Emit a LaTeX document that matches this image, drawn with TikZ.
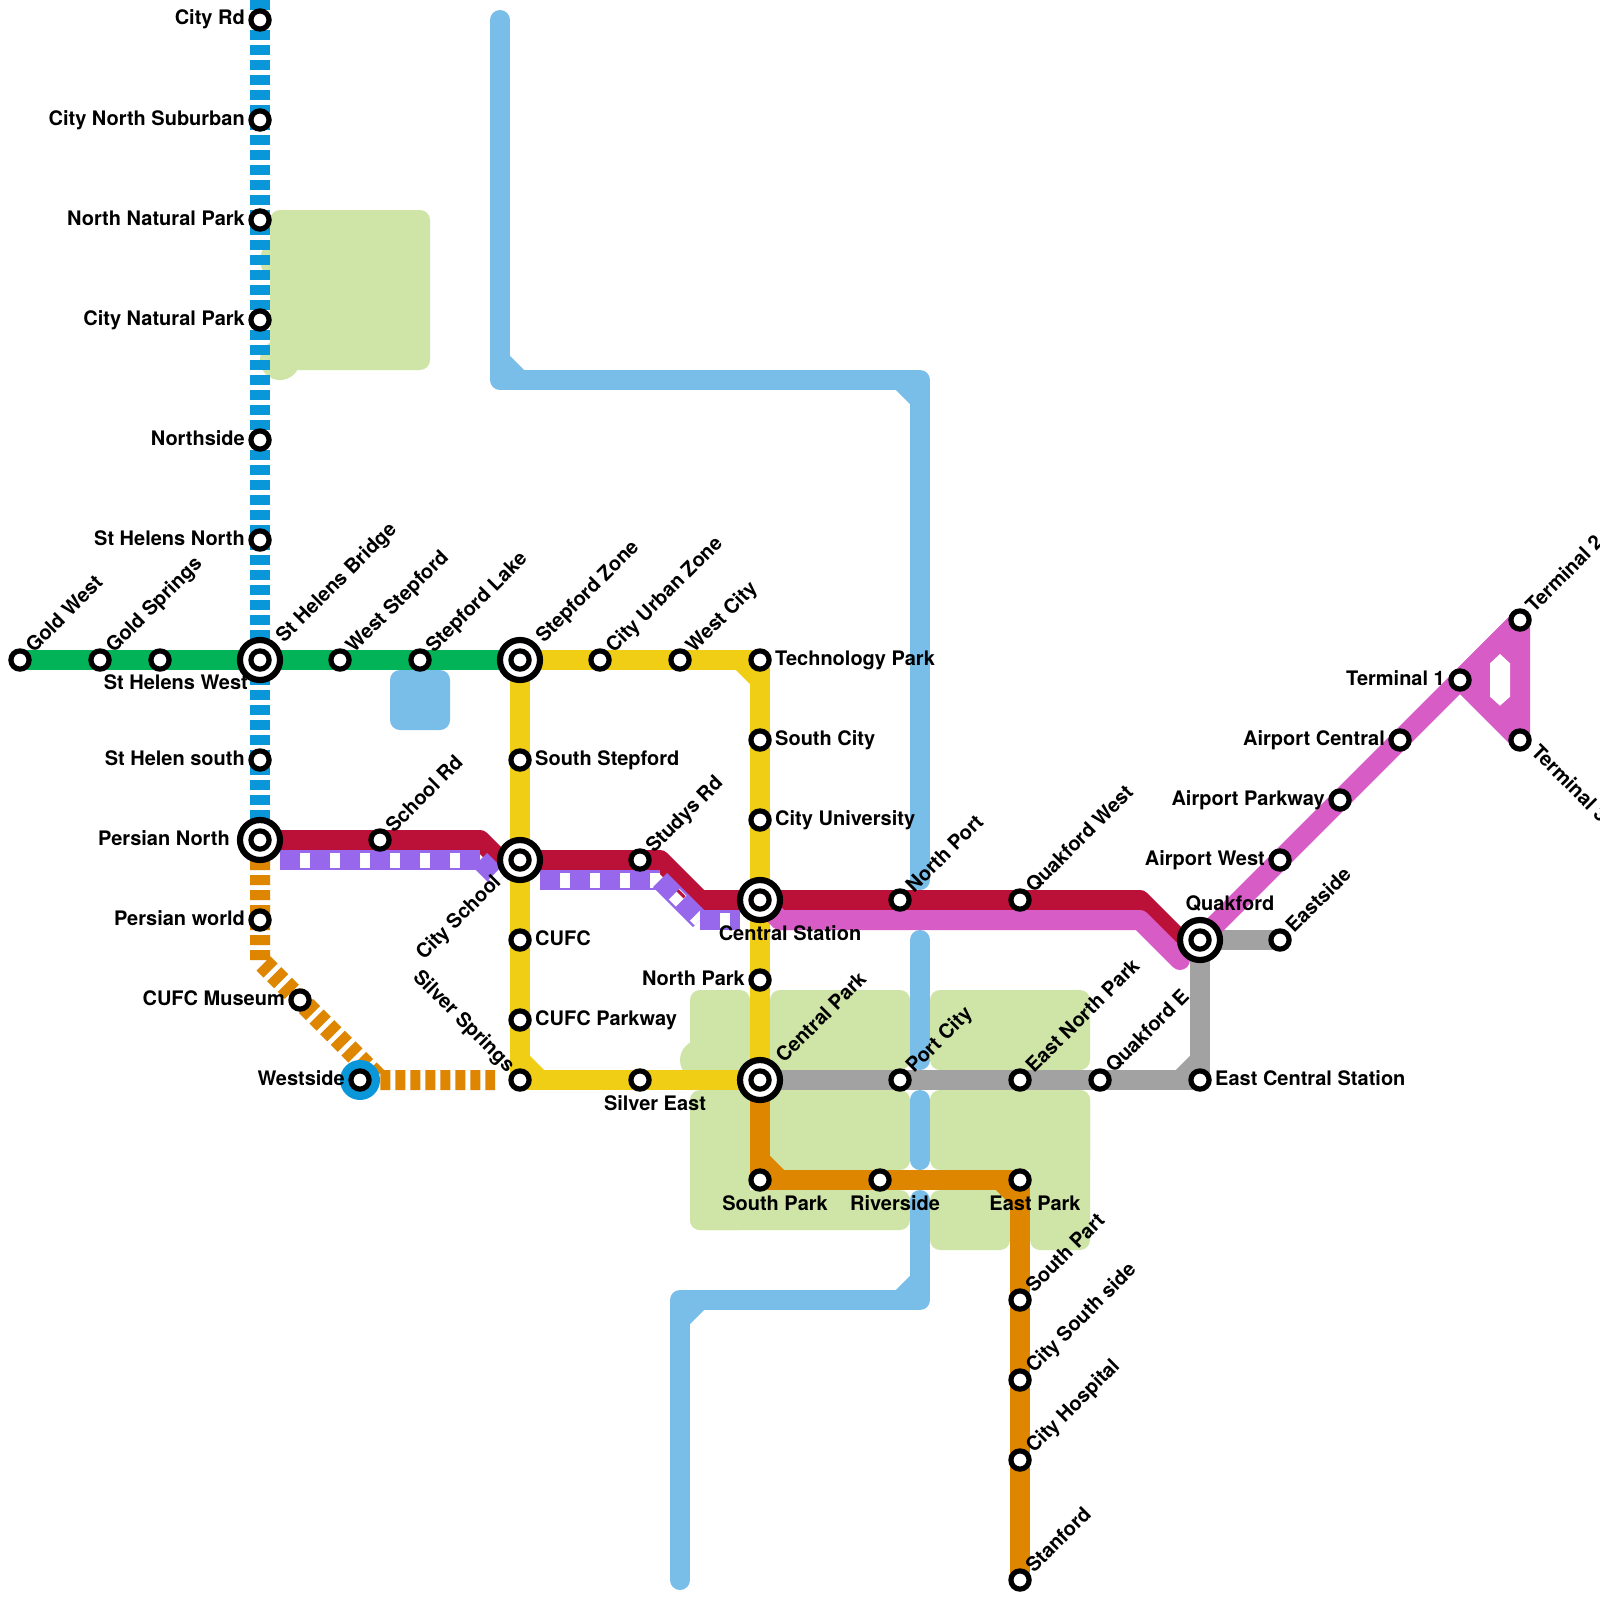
\documentclass[tikz,border=0pt]{standalone}
\usepackage{fontspec}
\setmainfont{TeX Gyre Heros}
\usetikzlibrary{calc}
\pgfdeclarelayer{bg}
\pgfsetlayers{bg,main}
\definecolor{cgreen}{HTML}{03B357}
\definecolor{cblue}{HTML}{0A97D9}
\definecolor{cred}{HTML}{BB1037}
\definecolor{cyellow}{HTML}{F0CE15}
\definecolor{corange}{HTML}{DF8600}
\definecolor{cmag}{HTML}{D85CC6}
\definecolor{cpurple}{HTML}{9768EC}
\definecolor{cgray}{HTML}{A2A2A2}
\definecolor{cpark}{HTML}{CFE5A8}
\definecolor{criver}{HTML}{79BDE9}
\tikzset{
  stn/.style={circle,draw=black,fill=white,line width=5.2pt,minimum size=18.2pt,inner sep=0pt,outer sep=0pt},
  hubring/.style={circle,draw=black,fill=white,line width=6.2pt,minimum size=40pt,inner sep=0pt,outer sep=0pt},
  lab/.style={inner sep=0pt,font=\fontsize{20}{22}\selectfont\bfseries,text=black},
  west/.style={lab,anchor=base east},
  east/.style={lab,anchor=base west},
  up/.style={lab,anchor=base west,rotate=45},
  upend/.style={lab,anchor=base east,rotate=45},
  down/.style={lab,anchor=base west,rotate=-45},
  downend/.style={lab,anchor=base east,rotate=-45},
  under/.style={lab,anchor=base},
  route/.style={line width=20pt,line join=round,line cap=butt},
  rivr/.style={route,criver},
  riverend/.style={rivr,line cap=round},
  park/.style={fill=cpark,rounded corners=10pt},
  pbase/.style={line width=20pt,cpurple},
  pdash/.style={line width=15pt,white,dash pattern=on 10pt off 20pt,dash phase=10pt}
}
\newcommand{\St}[6]{\node[stn] (#1) at (#2,#3) {};\node[#4] at ($(#1)+(#5)$) {#6};}
\newcommand{\Hub}[6]{\node[hubring] (#1o) at (#2,#3) {};\node[stn] (#1) at (#2,#3) {};\node[#4] at ($(#1)+(#5)$) {#6};}
\newcommand{\Purp}[2]{\draw[pbase] #1 -- #2;\draw[pdash] #1 -- #2;}
\begin{document}
\begin{tikzpicture}[x=1pt,y=-1pt]
\useasboundingbox (0,0) rectangle (1600,1600);
% stations
\St{gw}{20}{660}{up}{14,-6}{Gold West}
\St{gs}{100}{660}{up}{14,-6}{Gold Springs}
\St{shw}{160}{660}{west}{88,29}{St Helens West}
\Hub{shb}{260}{660}{up}{24,-16}{St Helens Bridge}
\St{ws}{340}{660}{up}{14,-6}{West Stepford}
\St{sl}{420}{660}{up}{14,-6}{Stepford Lake}
\Hub{sz}{520}{660}{up}{24,-16}{Stepford Zone}
\St{cuz}{600}{660}{up}{14,-6}{City Urban Zone}
\St{wc}{680}{660}{up}{14,-6}{West City}
\St{tp}{760}{660}{east}{15,5}{Technology Park}
\St{sc}{760}{740}{east}{15,5}{South City}
\St{cu}{760}{820}{east}{15,5}{City University}
\Hub{cs}{760}{900}{under}{30,40}{Central Station}
\St{np}{760}{980}{west}{-15,5}{North Park}
\Hub{cp}{760}{1080}{up}{24,-16}{Central Park}
\St{spk}{760}{1180}{under}{15,30}{South Park}
\St{rs}{880}{1180}{under}{15,30}{Riverside}
\St{ep}{1020}{1180}{under}{15,30}{East Park}
\St{spt}{1020}{1300}{up}{14,-6}{South Part}
\St{css}{1020}{1380}{up}{14,-6}{City South side}
\St{ch}{1020}{1460}{up}{14,-6}{City Hospital}
\St{stf}{1020}{1580}{up}{14,-6}{Stanford}
\St{crd}{260}{20}{west}{-15,5}{City Rd}
\St{cns}{260}{120}{west}{-15,5}{City North Suburban}
\St{nnp}{260}{220}{west}{-15,5}{North Natural Park}
\St{cnp}{260}{320}{west}{-15,5}{City Natural Park}
\St{nsd}{260}{440}{west}{-15,5}{Northside}
\St{shn}{260}{540}{west}{-15,5}{St Helens North}
\St{shs}{260}{760}{west}{-15,5}{St Helen south}
\Hub{pn}{260}{840}{west}{-30,5}{Persian North}
\St{pw}{260}{920}{west}{-15,5}{Persian world}
\St{cm}{300}{1000}{west}{-15,5}{CUFC Museum}
\St{sr}{380}{840}{up}{14,-6}{School Rd}
\Hub{csc}{520}{860}{upend}{-18,23}{City School}
\St{sst}{520}{760}{east}{15,5}{South Stepford}
\St{cf}{520}{940}{east}{15,5}{CUFC}
\St{cfp}{520}{1020}{east}{15,5}{CUFC Parkway}
\St{ssp}{520}{1080}{downend}{-13,-7}{Silver Springs}
\St{se}{640}{1080}{under}{15,30}{Silver East}
\St{sdr}{640}{860}{up}{14,-6}{Studys Rd}
\St{npt}{900}{900}{up}{14,-6}{North Port}
\St{pc}{900}{1080}{up}{14,-6}{Port City}
\St{enp}{1020}{1080}{up}{14,-6}{East North Park}
\St{qe}{1100}{1080}{up}{14,-6}{Quakford E}
\St{ecs}{1200}{1080}{east}{15,5}{East Central Station}
\St{qw}{1020}{900}{up}{14,-6}{Quakford West}
\Hub{qk}{1200}{940}{under}{30,-30}{Quakford}
\St{es}{1280}{940}{up}{14,-6}{Eastside}
\St{aw}{1280}{860}{west}{-15,5}{Airport West}
\St{apk}{1340}{800}{west}{-15,5}{Airport Parkway}
\St{ac}{1400}{740}{west}{-15,5}{Airport Central}
\St{t1}{1460}{680}{west}{-15,5}{Terminal 1}
\St{t2}{1520}{620}{up}{14,-6}{Terminal 2}
\St{t3}{1520}{740}{down}{10,13}{Terminal 3}
\node[circle,fill=cblue,minimum size=40pt,inner sep=0pt,outer sep=0pt] (wsd) at (360,1080) {};
\node[stn] (wsdi) at (360,1080) {};
\node[west] at ($(wsdi)+(-15,5)$) {Westside};
\begin{pgfonlayer}{bg}
\fill[white] (0,0) rectangle (1600,1600);
% parks
\fill[cpark] (280,260) circle[radius=20pt];
\fill[cpark] (280,360) circle[radius=20pt];
\fill[park] (270,210) rectangle (430,370);
\fill[cpark] (700,1060) circle[radius=20pt];
\fill[park] (690,990) rectangle (750,1070);
\fill[park] (770,990) rectangle (910,1070);
\fill[park] (690,1090) rectangle (750,1230);
\fill[park] (770,1090) rectangle (910,1170);
\fill[park] (690,1190) rectangle (910,1230);
\fill[park] (930,990) rectangle (1090,1070);
\fill[park] (930,1090) rectangle (1090,1170);
\fill[park] (930,1190) rectangle (1010,1250);
\fill[park] (1030,1090) rectangle (1090,1250);
% water
\fill[criver,rounded corners=10pt] (390,670) rectangle (450,730);
\draw[rivr] (500,360) -- (520,380);
\draw[rivr] (900,380) -- (920,400);
\draw[riverend] (500,20) -- (500,380) -- (920,380) -- (920,880);
\draw[riverend] (920,940) -- (920,1060);
\draw[riverend] (920,1100) -- (920,1160);
\draw[riverend] (920,1200) -- (920,1300) -- (680,1300) -- (680,1580);
\draw[rivr] (900,1300) -- (920,1280);
\draw[rivr] (680,1320) -- (700,1300);
% lines
\draw[route,cblue,dash pattern=on 10pt off 5pt] (260,0) -- (pn.center);
\draw[route,line join=miter,corange,dash pattern=on 10pt off 5pt,dash phase=10pt] (pn.center) -- (260,960) -- (380,1080) -- (495,1080);
\draw[route,cgreen] (gw.center) -- (sz.center);
\draw[route,corange] (cp.center) -- (spk.center) -- (ep.center) -- (stf.center);
\draw[route,corange] (760,1160) -- (780,1180);
\draw[route,corange] (1000,1180) -- (1020,1200);
\draw[route,cgray] (cp.center) -- (ecs.center) -- (qk.center) -- (es.center);
\draw[route,cgray] (1180,1080) -- (1200,1060);
\draw[route,cyellow] (sz.center) -- (tp.center) -- (cp.center);
\draw[route,cyellow] (740,660) -- (760,680);
\draw[route,cyellow] (sz.center) -- (ssp.center) -- (cp.center);
\draw[route,cyellow] (520,1060) -- (540,1080);
\draw[route,cred] (pn.center) -- (480,840) -- (500,860) -- (csc.center) -- (660,860) -- (700,900) -- (1140,900) -- (1180,940);
\Purp{(280,860)}{(480,860)}
\Purp{(480,860)}{(500,880)}
\Purp{(540,880)}{(660,880)}
\Purp{(660,880)}{(700,920)}
\Purp{(700,920)}{(740,920)}
\draw[cred,line width=3pt] (677.7,890.5) -- (684.5,897.3);
\draw[route,cmag,line cap=round] (1180,960) -- (1140,920) -- (780,920);
\draw[route,cmag] (cs.center) -- (780,920) -- (800,920);
\draw[route,cmag] (qk.center) -- (t2.center);
\fill[cmag] (t1.center) -- (t2.center) -- (t3.center) -- cycle;
\draw[route,cmag,line join=bevel] (t1.center) -- (t2.center) -- (t3.center) -- cycle;
\fill[white] (1490,663.3) -- (1500,654) -- (1510,663.3) -- (1510,696.7) -- (1500,705.7) -- (1490,696.7) -- cycle;
\end{pgfonlayer}
\end{tikzpicture}
\end{document}
